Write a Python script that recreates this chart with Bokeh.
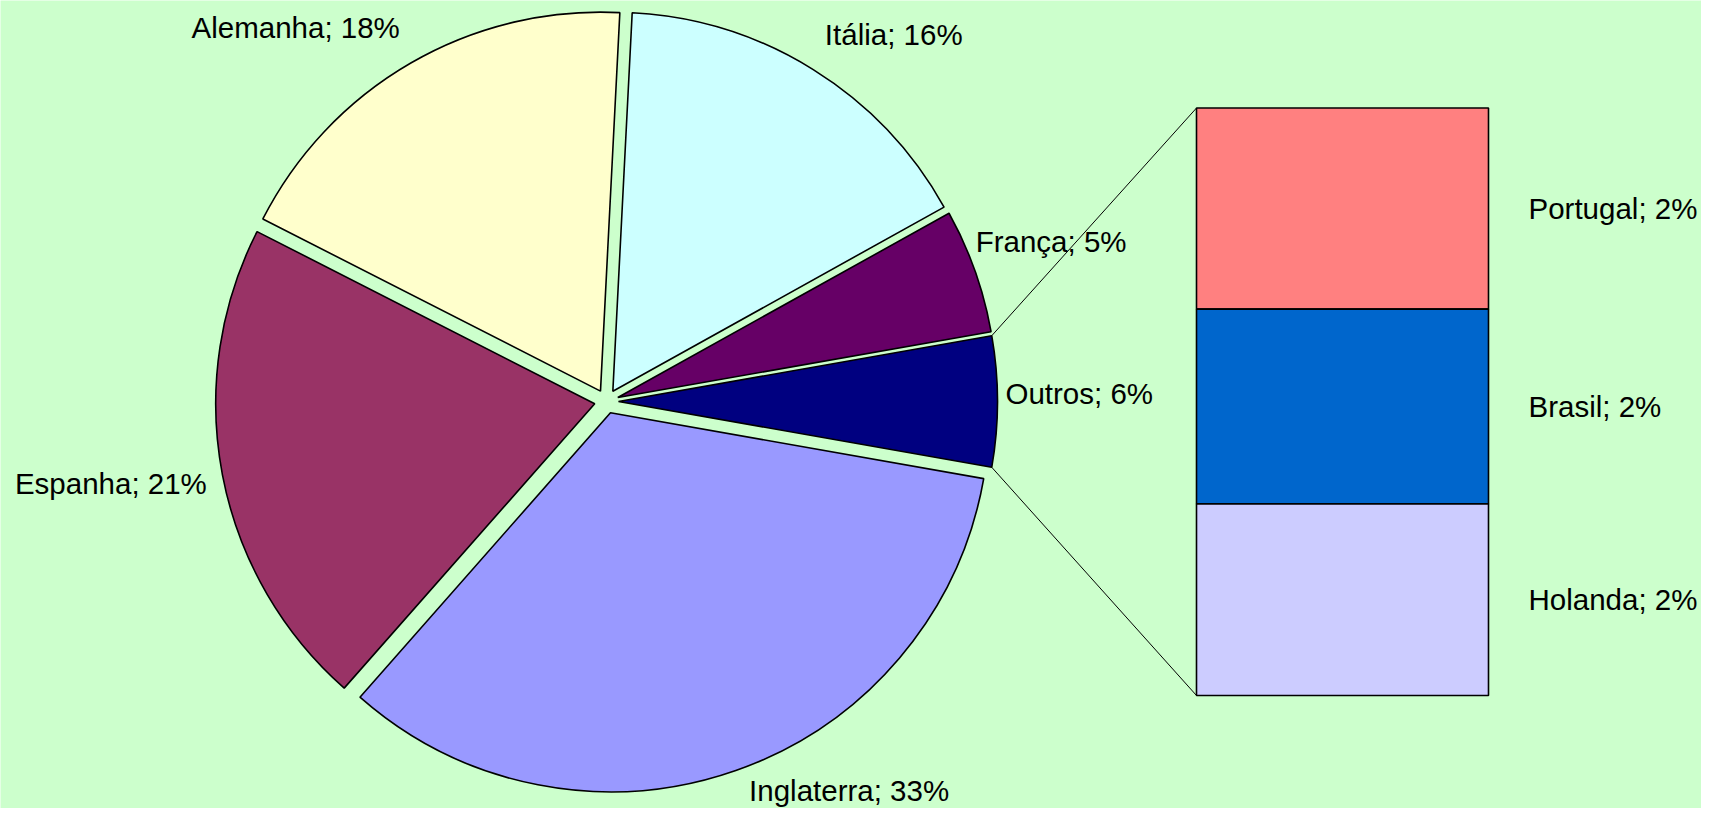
import math
from bokeh.plotting import figure
from bokeh.models import Range1d, ColumnDataSource
from bokeh.embed import file_html
from bokeh.resources import INLINE
from bokeh.core.properties import value

# ---------------- data ----------------
pie_labels = ["França", "Itália", "Alemanha", "Espanha", "Inglaterra"]
pie_values = [5.3, 16.1, 18.3, 21.0, 33.7]
pie_pct = ["5%", "16%", "18%", "21%", "33%"]
pie_colors = ["#660066", "#CCFFFF", "#FFFFCC", "#993366", "#9999FF"]

other_label = "Outros"
other_pct = "6%"
other_color = "#000080"

bar_labels = ["Portugal", "Brasil", "Holanda"]
bar_values = [1.90, 1.84, 1.81]
bar_pct = ["2%", "2%", "2%"]
bar_colors = ["#FF8080", "#0066CC", "#CCCCFF"]

# ---------------- layout ----------------
H = 824
CX, CY = 606.0, H - 401.0
R = 379.0
EXPLODE = 12.0
GAP = 22.0
BX0, BX1 = 1196.0, 1488.0
BTOP, BBOT = H - 107.5, H - 695.0
FONT = value("Liberation Sans")
FSIZE = "29.5px"
BG = "#CCFFCC"

# label nudges (x right, y up), pixels
nudge = {"Outros": (-14, 8), "França": (-20, 5), "Espanha": (6, -5), "Inglaterra": (6, 17)}

p = figure(width=1701, height=808, x_range=Range1d(0, 1701), y_range=Range1d(16, 824),
           output_backend="svg", toolbar_location=None, min_border=0,
           background_fill_color=BG, border_fill_color=BG, outline_line_color=None)
p.axis.visible = False
p.grid.visible = False

other_value = sum(bar_values)
total = other_value + sum(pie_values)

names = [other_label] + pie_labels
vals = [other_value] + pie_values
pcts = [other_pct] + pie_pct
cols = [other_color] + pie_colors

a = -math.pi * other_value / total
wx, wy, sa, ea = [], [], [], []
lx, ly, lt, la, lb = [], [], [], [], []
outros_geom = None
for n, v, pc, c in zip(names, vals, pcts, cols):
    span = 2 * math.pi * v / total
    a0, a1 = a, a + span
    mid = (a0 + a1) / 2
    cx = CX + EXPLODE * math.cos(mid)
    cy = CY + EXPLODE * math.sin(mid)
    wx.append(cx); wy.append(cy); sa.append(a0); ea.append(a1)
    if n == other_label:
        outros_geom = (cx, cy, a0, a1)
    ox = cx + (R + GAP) * math.cos(mid)
    oy = cy + (R + GAP) * math.sin(mid)
    dx, dy = nudge.get(n, (0, 0))
    lx.append(ox + dx); ly.append(oy + dy)
    lt.append(f"{n}; {pc}")
    cm, sm = math.cos(mid), math.sin(mid)
    la.append("left" if cm > 0.25 else ("right" if cm < -0.25 else "center"))
    lb.append("bottom" if sm > 0.3 else ("top" if sm < -0.35 else "middle"))
    a = a1

p.wedge(x=wx, y=wy, radius=R, start_angle=sa, end_angle=ea, fill_color=cols,
        line_color="black", line_width=1.6)

src = ColumnDataSource(dict(x=lx, y=ly, t=lt, a=la, b=lb))
p.text(x="x", y="y", text="t", text_align="a", text_baseline="b", source=src,
       text_font=FONT, text_font_size=FSIZE, text_color="black")

# bar of the "Outros" slice
scale = (BTOP - BBOT) / other_value
tops, bots = [], []
cur = BTOP
for v in bar_values:
    tops.append(cur)
    cur = cur - v * scale
    bots.append(cur)
p.quad(left=BX0, right=BX1, top=tops, bottom=bots, fill_color=bar_colors,
       line_color="black", line_width=1.6)
p.text(x=[BX1 + 40] * len(bar_labels), y=[(t + b) / 2 for t, b in zip(tops, bots)],
       text=[f"{n}; {pc}" for n, pc in zip(bar_labels, bar_pct)],
       text_align="left", text_baseline="middle",
       text_font=FONT, text_font_size=FSIZE, text_color="black")

# connector lines
ocx, ocy, oa0, oa1 = outros_geom
p.segment(x0=[BX0, BX0], y0=[BTOP, BBOT],
          x1=[ocx + R * math.cos(oa1), ocx + R * math.cos(oa0)],
          y1=[ocy + R * math.sin(oa1), ocy + R * math.sin(oa0)],
          line_color="black", line_width=1)

open("out.html", "w").write(file_html(p, INLINE))
